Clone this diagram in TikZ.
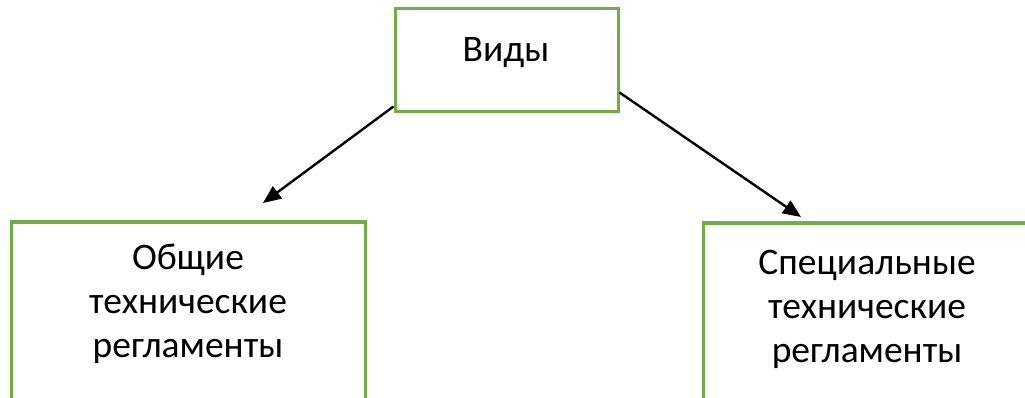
\documentclass[tikz,border=0pt]{standalone}
\usepackage{fontspec}
\setmainfont{Carlito}
\usetikzlibrary{arrows.meta}
\begin{document}
\begin{tikzpicture}[x=1pt,y=-1pt,
  box/.style={draw=boxgreen,line width=3pt,rectangle,inner sep=0pt},
  lbl/.style={anchor=base,inner sep=0pt,font=\fontsize{37.5}{43}\selectfont},
  arr/.style={line width=2.4pt,-{Triangle[length=18pt,width=15pt]}}]
\definecolor{boxgreen}{HTML}{70AD47}
\useasboundingbox (0,0) rectangle (1025,398);
\begin{scope}
\clip (0,0) rectangle (1025,398);
% boxes
\node[box,minimum width=223pt,minimum height=103pt] (kinds) at (506.5,60.5) {};
\node[box,minimum width=354pt,minimum height=177pt] (general) at (188,310.5) {};
\node[box,minimum width=325pt,minimum height=180pt] (special) at (865.5,313) {};
\end{scope}
% labels
\node[lbl] (t0) at (506,62) {Виды};
\node[lbl] (g1) at (188,269) {Общие};
\node[lbl] (g2) at (188,313) {технические};
\node[lbl] (g3) at (188,357) {регламенты};
\node[lbl] (s1) at (867,274) {Специальные};
\node[lbl] (s2) at (867,318) {технические};
\node[lbl] (s3) at (867,362) {регламенты};
% connectors
\coordinate (endL) at (263,203);
\coordinate (endR) at (801,217);
\draw[arr] ([yshift=7pt]kinds.south west) -- (endL);
\draw[arr] ([yshift=21pt]kinds.south east) -- (endR);
\end{tikzpicture}
\end{document}
